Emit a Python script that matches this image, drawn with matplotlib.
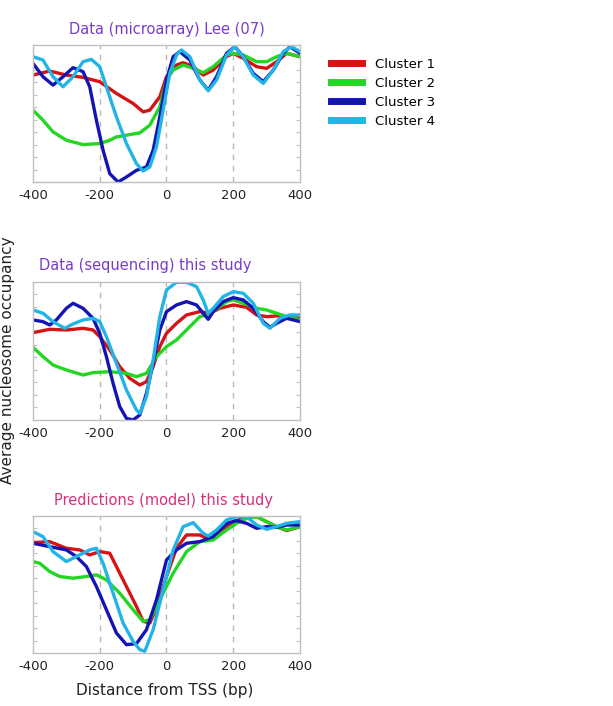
import matplotlib
matplotlib.use("Agg")
import matplotlib.pyplot as plt
from matplotlib.lines import Line2D

# ---- data (arbitrary occupancy units) ----
# Panel 1: Data (microarray) Lee (07)
p1_red_x = [-400, -350, -300, -250, -200, -150, -100, -70, -50, -20, 0, 30, 50, 80, 110, 140, 180, 200, 230, 270, 300, 330, 360, 400]
p1_red_y = [320, 332, 320, 313, 300, 265, 235, 210, 215, 255, 315, 350, 357, 345, 320, 335, 375, 385, 370, 345, 340, 360, 385, 375]
p1_green_x = [-400, -370, -340, -300, -250, -200, -170, -150, -120, -80, -50, -20, 0, 20, 50, 80, 110, 140, 180, 200, 230, 270, 300, 330, 360, 400]
p1_green_y = [215, 185, 150, 125, 112, 115, 125, 135, 140, 147, 170, 225, 305, 335, 350, 340, 327, 345, 380, 385, 380, 360, 360, 375, 385, 375]
p1_dblue_x = [-400, -370, -340, -310, -280, -250, -230, -210, -190, -170, -145, -120, -90, -60, -40, -20, 0, 20, 40, 70, 100, 125, 150, 180, 205, 230, 260, 290, 320, 350, 370, 400]
p1_dblue_y = [355, 315, 290, 315, 342, 330, 285, 185, 95, 25, 0, 15, 35, 45, 95, 195, 305, 375, 390, 365, 305, 275, 315, 385, 405, 375, 325, 300, 335, 385, 405, 385]
p1_lblue_x = [-400, -370, -340, -310, -280, -250, -225, -200, -180, -150, -120, -90, -70, -50, -30, -10, 10, 30, 45, 70, 100, 125, 150, 180, 205, 230, 260, 290, 320, 350, 375, 400]
p1_lblue_y = [375, 365, 315, 285, 315, 360, 367, 345, 285, 195, 115, 55, 33, 45, 105, 215, 325, 380, 395, 375, 305, 273, 305, 380, 405, 375, 320, 295, 335, 390, 405, 390]

# Panel 2: Data (sequencing) this study
p2_red_x = [-400, -350, -300, -250, -220, -200, -170, -140, -110, -80, -60, -40, -20, 0, 30, 60, 100, 130, 160, 200, 240, 270, 300, 330, 360, 400]
p2_red_y = [262, 272, 270, 275, 270, 250, 210, 160, 125, 105, 115, 160, 220, 260, 290, 315, 325, 320, 335, 345, 338, 315, 310, 312, 310, 305]
p2_green_x = [-400, -370, -340, -300, -250, -220, -170, -120, -90, -60, -30, 0, 30, 60, 100, 120, 140, 180, 200, 230, 270, 300, 330, 360, 400]
p2_green_y = [218, 190, 165, 150, 135, 142, 145, 140, 130, 140, 190, 220, 240, 270, 310, 315, 325, 355, 360, 350, 335, 330, 320, 310, 300]
p2_dblue_x = [-400, -370, -350, -330, -300, -280, -250, -220, -200, -180, -160, -140, -120, -100, -80, -60, -40, -20, 0, 30, 60, 90, 110, 125, 140, 170, 200, 230, 260, 290, 310, 330, 360, 400]
p2_dblue_y = [300, 295, 285, 300, 335, 350, 335, 305, 260, 190, 110, 40, 5, 0, 15, 80, 170, 270, 325, 345, 355, 345, 320, 302, 325, 355, 367, 360, 335, 295, 278, 290, 305, 295]
p2_lblue_x = [-400, -370, -340, -305, -280, -250, -220, -200, -180, -150, -120, -90, -80, -60, -40, -20, 0, 30, 60, 90, 110, 125, 140, 170, 200, 230, 260, 290, 310, 340, 370, 400]
p2_lblue_y = [330, 320, 295, 275, 288, 300, 305, 295, 250, 170, 90, 30, 20, 70, 180, 310, 390, 413, 413, 400, 360, 320, 335, 370, 385, 380, 350, 290, 275, 305, 315, 315]

# Panel 3: Predictions (model) this study
p3_red_x = [-400, -350, -300, -260, -230, -200, -170, -150, -120, -90, -70, -50, -30, 0, 30, 60, 100, 130, 160, 200, 240, 270, 300, 330, 360, 400]
p3_red_y = [332, 335, 315, 310, 295, 305, 300, 260, 200, 140, 95, 90, 135, 230, 315, 355, 355, 340, 365, 395, 408, 410, 395, 380, 368, 380]
p3_green_x = [-400, -380, -350, -320, -280, -240, -210, -180, -140, -100, -70, -50, -20, 20, 60, 100, 140, 180, 210, 240, 270, 300, 330, 360, 400]
p3_green_y = [275, 270, 245, 230, 225, 230, 235, 220, 180, 130, 95, 100, 160, 240, 305, 335, 340, 370, 390, 405, 410, 395, 380, 370, 380]
p3_dblue_x = [-400, -350, -300, -270, -240, -210, -180, -150, -120, -90, -60, -30, 0, 30, 60, 100, 140, 180, 210, 240, 270, 300, 330, 360, 400]
p3_dblue_y = [330, 320, 310, 290, 260, 200, 130, 60, 25, 28, 70, 160, 280, 310, 330, 335, 350, 390, 398, 390, 375, 380, 378, 385, 385]
p3_lblue_x = [-400, -370, -340, -300, -270, -230, -210, -190, -160, -130, -100, -80, -65, -40, -10, 20, 50, 80, 110, 125, 150, 180, 210, 240, 270, 300, 330, 360, 400]
p3_lblue_y = [365, 350, 305, 275, 290, 310, 315, 270, 180, 90, 35, 10, 5, 70, 190, 310, 380, 392, 360, 352, 370, 400, 410, 410, 385, 372, 380, 390, 395]

cluster_names = ["Cluster 1", "Cluster 2", "Cluster 3", "Cluster 4"]
cluster_colors = ["#d41414", "#22d622", "#1414b4", "#22b4e6"]

panels = [
    ("Data (microarray) Lee (07)", "#7a3cc8", 410,
     [(p1_red_x, p1_red_y), (p1_green_x, p1_green_y), (p1_dblue_x, p1_dblue_y), (p1_lblue_x, p1_lblue_y)]),
    ("Data (sequencing) this study", "#7a3cc8", 415,
     [(p2_red_x, p2_red_y), (p2_green_x, p2_green_y), (p2_dblue_x, p2_dblue_y), (p2_lblue_x, p2_lblue_y)]),
    ("Predictions (model) this study", "#d8307a", 412,
     [(p3_red_x, p3_red_y), (p3_green_x, p3_green_y), (p3_dblue_x, p3_dblue_y), (p3_lblue_x, p3_lblue_y)]),
]

# axes boxes [left, bottom, width, height] in figure fraction
boxes = [
    [0.0538, 0.7422, 0.4356, 0.1941],
    [0.0538, 0.4051, 0.4356, 0.1960],
    [0.0538, 0.0751, 0.4356, 0.1940],
]
title_x = [0.5, 0.42, 0.49]

fig = plt.figure(figsize=(6.13, 7.06), dpi=100)

for (title, tcolor, ymax, series), box, tx in zip(panels, boxes, title_x):
    ax = fig.add_axes(box)
    for gx in [-200, 0, 200]:
        ax.axvline(gx, color="#b8b8b8", lw=1, ls=(0, (4, 4)), zorder=0)
    for (xs, ys), c in zip(series, cluster_colors):
        ax.plot(xs, ys, color=c, lw=2.4, solid_capstyle="round", solid_joinstyle="round")
    ax.set_xlim(-400, 400)
    ax.set_ylim(0, ymax)
    ax.set_xticks([-400, -200, 0, 200, 400])
    ax.set_xticklabels(["-400", "-200", "0", "200", "400"])
    ax.set_yticks([ymax * i / 11 for i in range(1, 11)])
    ax.set_yticklabels([])
    ax.tick_params(axis="x", length=0, pad=5, labelsize=9.5, labelcolor="#222222")
    ax.tick_params(axis="y", direction="in", length=3, color="#c0c0c0", left=True, right=True)
    for s in ax.spines.values():
        s.set_color("#c0c0c0")
        s.set_linewidth(1)
    ax.text(tx, 1.06, title, transform=ax.transAxes, ha="center", va="bottom",
            color=tcolor, fontsize=10.5)

fig.text(0.268, 0.022, "Distance from TSS (bp)", ha="center",
         va="center", fontsize=11, color="#222222")
fig.text(0.013, 0.49, "Average nucleosome occupancy", rotation=90, ha="center",
         va="center", fontsize=11, color="#222222")

handles = [Line2D([0], [0], color=c, lw=5) for c in cluster_colors]
fig.legend(handles, cluster_names, loc="upper left", bbox_to_anchor=(0.52, 0.935),
           frameon=False, fontsize=9.5, handlelength=2.4, handletextpad=1.0,
           labelspacing=0.45)

fig.savefig("out.png", dpi=100, facecolor="white")
